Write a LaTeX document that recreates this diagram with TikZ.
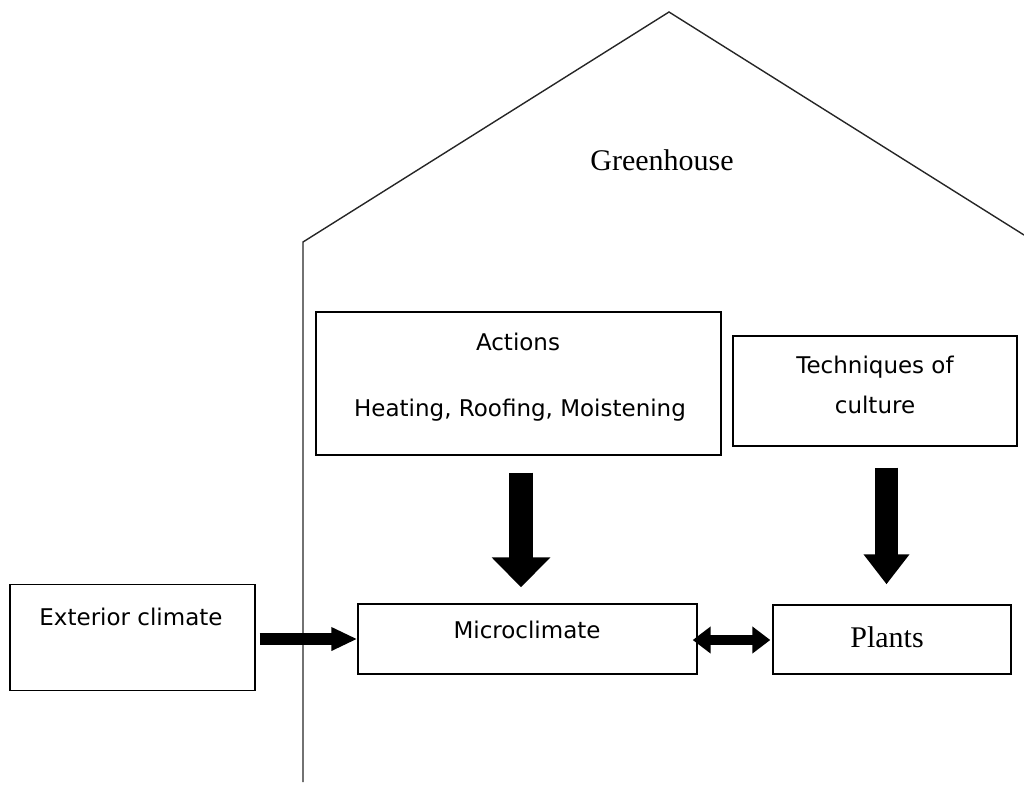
\documentclass[tikz,border=0pt]{standalone}
\usepackage{fontspec}
\setmainfont{Liberation Serif}
\newfontfamily\uisans{DejaVu Sans}
\usetikzlibrary{arrows.meta,calc}
\tikzset{
  box/.style={draw, line width=1.4pt, inner sep=0pt},
  lbl/.style={font=\uisans\fontsize{23}{40}\selectfont, inner sep=0pt, align=center},
  serif/.style={font=\fontsize{30}{36}\selectfont, inner sep=0pt},
  wall/.style={line width=1.4pt, draw=black!85},
  bigdownA/.style={line width=24pt, -{Triangle[width=57pt,length=30pt]}},
  bigdownB/.style={line width=23pt, -{Triangle[width=44pt,length=30pt]}},
  sidearrow/.style={line width=12pt, -{Triangle[width=22pt,length=26pt]}},
  twoway/.style={line width=10pt, {Triangle[width=26pt,length=18pt]}-{Triangle[width=26pt,length=18pt]}}
}
\begin{document}
\begin{tikzpicture}[x=1pt,y=-1pt]
\useasboundingbox (0,0) rectangle (1024,785);
% greenhouse outline
\coordinate (wb) at (303,782);
\coordinate (wt) at (303,242);
\coordinate (apex) at (669,12);
\coordinate (re) at (1024,235);
\draw[wall] (wb) -- (wt) -- (apex) -- (re);
\node[serif] (gh) at (662,160) {Greenhouse};
% boxes
\node[box, minimum width=405pt, minimum height=143pt] (actions) at (518.5,383.5) {};
\node[lbl] (actt) at (518,342) {Actions};
\node[lbl] (acth) at (520,410) {Heating, Roofing, Moistening};
\node[box, minimum width=284pt, minimum height=110pt] (tech) at (875,391) {};
\node[lbl] (techt) at (875,385) {Techniques of\\culture};
\node[box, minimum width=245pt, minimum height=106pt] (ext) at (132.5,637.5) {};
\node[lbl] (extt) at (131,617) {Exterior climate};
\node[box, minimum width=339pt, minimum height=70pt] (micro) at (527.5,639) {};
\node[lbl] (microt) at (527,630) {Microclimate};
\node[box, minimum width=238pt, minimum height=69pt] (plants) at (892,639.5) {};
\node[serif] (plantst) at (887,637) {Plants};
% arrows
\draw[bigdownA] ([xshift=2.5pt,yshift=-17pt]actions.south) -- ([xshift=-6.5pt,yshift=16pt]micro.north);
\draw[bigdownB] ([xshift=11.5pt,yshift=-21pt]tech.south) -- ([xshift=-5.5pt,yshift=20pt]plants.north);
\draw[sidearrow] ([xshift=4pt,yshift=-1.5pt]ext.east) -- (micro.west);
\draw[twoway] ([xshift=-5pt,yshift=-1pt]micro.east) -- ([xshift=-2pt,yshift=-0.5pt]plants.west);
\end{tikzpicture}
\end{document}
